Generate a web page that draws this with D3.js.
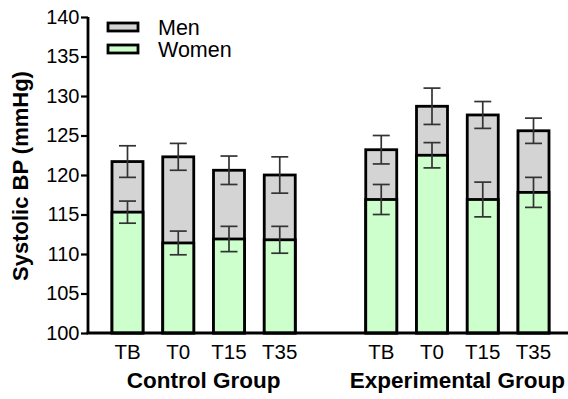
<!DOCTYPE html>
<html>
<head>
<meta charset="utf-8">
<script src="https://cdn.jsdelivr.net/npm/d3@7"></script>
<style>
  html, body { margin: 0; padding: 0; background: #fff; }
  svg { display: block; font-family: "Liberation Sans", Arial, sans-serif; }
</style>
</head>
<body>
<svg id="chart" width="568" height="399"></svg>
<script>
// Time points and groups
const timepoints = ["TB", "T0", "T15", "T35"];
const groups = ["Control Group", "Experimental Group"];

// Mean systolic BP (mmHg) and SEM, per group, in timepoint order
const menMean   = [[121.7, 122.3, 120.6, 120.0], [123.2, 128.7, 127.6, 125.6]];
const menErr    = [[2.0, 1.7, 1.8, 2.3], [1.8, 2.3, 1.7, 1.6]];
const womenMean = [[115.3, 111.4, 111.9, 111.8], [116.9, 122.5, 116.9, 117.8]];
const womenErr  = [[1.4, 1.5, 1.6, 1.7], [1.9, 1.6, 2.2, 1.9]];

const yTicks = [100, 105, 110, 115, 120, 125, 130, 135, 140];

const svg = d3.select("#chart");
const plotLeft = 88, plotRight = 568, plotTop = 17, plotBottom = 333;

// One slot per bar, with an empty slot between the two groups
const slots = [];
groups.forEach((g, gi) => {
  if (gi > 0) slots.push("gap" + gi);
  timepoints.forEach(t => slots.push(gi + "|" + t));
});

const x = d3.scalePoint().domain(slots).range([127.5, 533.5]);
const barW = 31;
const y = d3.scaleLinear().domain([100, 140]).range([plotBottom, plotTop]);

// Flatten into records
const rows = [];
groups.forEach((g, gi) => timepoints.forEach((t, ti) => rows.push({
  key: gi + "|" + t, t,
  men: menMean[gi][ti], menE: menErr[gi][ti],
  women: womenMean[gi][ti], womenE: womenErr[gi][ti]
})));

const colMen = "#d4d4d4", colWomen = "#ccffcc";
const plot = svg.append("g");

// Men bars sit behind the women bars
plot.selectAll("rect.men").data(rows).join("rect")
  .attr("class", "men")
  .attr("x", d => x(d.key) - barW / 2)
  .attr("width", barW)
  .attr("y", d => y(d.men))
  .attr("height", d => y(100) - y(d.men))
  .attr("fill", colMen).attr("stroke", "#000").attr("stroke-width", 2.8);

plot.selectAll("rect.women").data(rows).join("rect")
  .attr("class", "women")
  .attr("x", d => x(d.key) - barW / 2)
  .attr("width", barW)
  .attr("y", d => y(d.women))
  .attr("height", d => y(100) - y(d.women))
  .attr("fill", colWomen).attr("stroke", "#000").attr("stroke-width", 2.8);

// Error bars
const capW = 17;
function errBars(meanKey, errKey) {
  const g = plot.append("g").attr("stroke", "#333").attr("stroke-width", 1.7).attr("fill", "none");
  rows.forEach(d => {
    const cx = x(d.key), lo = d[meanKey] - d[errKey], hi = d[meanKey] + d[errKey];
    g.append("line").attr("x1", cx).attr("x2", cx).attr("y1", y(lo)).attr("y2", y(hi));
    g.append("line").attr("x1", cx - capW / 2).attr("x2", cx + capW / 2).attr("y1", y(hi)).attr("y2", y(hi));
    g.append("line").attr("x1", cx - capW / 2).attr("x2", cx + capW / 2).attr("y1", y(lo)).attr("y2", y(lo));
  });
}
errBars("men", "menE");
errBars("women", "womenE");

// Y axis
const yAxis = svg.append("g").attr("transform", `translate(${plotLeft},0)`)
  .call(d3.axisLeft(y).tickValues(yTicks).tickSize(7).tickPadding(1.5).tickFormat(d3.format("d")));
yAxis.select(".domain").attr("stroke", "#000").attr("stroke-width", 2.8).attr("d", `M0,${plotTop}V${plotBottom}`);
yAxis.selectAll(".tick line").attr("stroke", "#000").attr("stroke-width", 2.2);
yAxis.selectAll(".tick text").attr("font-size", 20).attr("fill", "#000")
  .attr("font-family", "Liberation Sans, Arial, sans-serif");

// X axis baseline
svg.append("line").attr("x1", plotLeft - 1.4).attr("x2", plotRight).attr("y1", plotBottom).attr("y2", plotBottom)
  .attr("stroke", "#000").attr("stroke-width", 2.8);

// Timepoint labels
svg.selectAll("text.tp").data(rows).join("text")
  .attr("class", "tp")
  .attr("x", d => x(d.key)).attr("y", 359)
  .attr("text-anchor", "middle").attr("font-size", 20.5).attr("fill", "#000")
  .text(d => d.t);

// Group labels
groups.forEach((g, gi) => {
  const first = x(gi + "|" + timepoints[0]), last = x(gi + "|" + timepoints[timepoints.length - 1]);
  svg.append("text").attr("x", (first + last) / 2).attr("y", 388)
    .attr("text-anchor", "middle").attr("font-size", 22.5).attr("font-weight", "bold").attr("fill", "#000")
    .text(g);
});

// Y axis title
svg.append("text").attr("transform", `translate(28,${(plotTop + plotBottom) / 2 + 1}) rotate(-90)`)
  .attr("text-anchor", "middle").attr("font-size", 22).attr("font-weight", "bold").attr("fill", "#000")
  .text("Systolic BP (mmHg)");

// Legend
const legend = [{ name: "Men", fill: colMen }, { name: "Women", fill: colWomen }];
const lg = svg.append("g").attr("transform", "translate(108,23)");
legend.forEach((l, i) => {
  lg.append("rect").attr("x", 0).attr("y", i * 22).attr("width", 30).attr("height", 8)
    .attr("fill", l.fill).attr("stroke", "#000").attr("stroke-width", 2.8);
  lg.append("text").attr("x", 50).attr("y", i * 22 + 11.5).attr("font-size", 21.5).attr("fill", "#000")
    .text(l.name);
});
</script>
</body>
</html>
